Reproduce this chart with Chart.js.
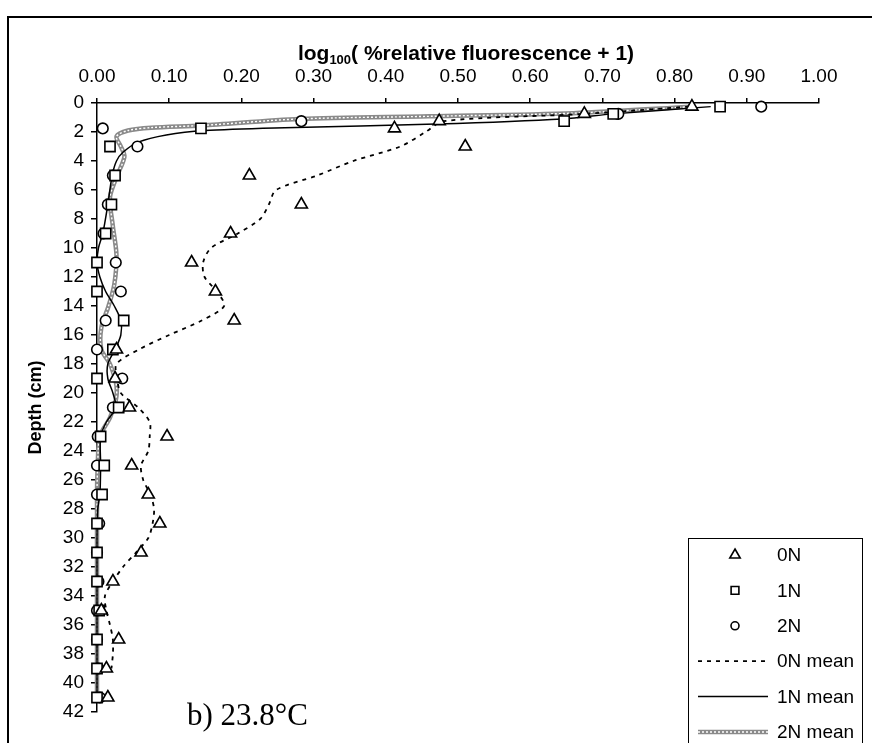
<!DOCTYPE html>
<html>
<head>
<meta charset="utf-8">
<script src="https://cdn.jsdelivr.net/npm/chart.js@4.4.0/dist/chart.umd.min.js"></script>
<style>
  html, body { margin: 0; padding: 0; background: #fff; }
  #wrap { position: relative; width: 872px; height: 743px; }
</style>
</head>
<body>
<div id="wrap"><canvas id="chart" width="872" height="743"></canvas></div>
<script>
// sample depths (cm) and log100(% rel. fluorescence + 1) per treatment
const depths = [0.25, 0.75, 1.25, 1.75, 3, 5, 7, 9, 11, 13, 15, 17, 19, 21, 23, 25, 27, 29, 31, 33, 35, 37, 39, 41];
const val0N = [0.824, 0.675, 0.474, 0.412, 0.51, 0.211, 0.283, 0.185, 0.131, 0.164, 0.19, 0.027, 0.025, 0.045, 0.097, 0.048, 0.071, 0.087, 0.061, 0.022, 0.006, 0.030, 0.013, 0.015];
const val1N = [0.863, 0.715, 0.647, 0.144, 0.018, 0.025, 0.02, 0.012, 0.0, 0.0, 0.037, 0.022, 0.0, 0.030, 0.005, 0.010, 0.007, 0.0, 0.0, 0.0, 0.003, 0.0, 0.0, 0.0];
const val2N = [0.92, 0.722, 0.283, 0.008, 0.056, 0.022, 0.015, 0.009, 0.026, 0.033, 0.012, 0.0, 0.035, 0.022, 0.001, 0.0, 0.0, 0.003, 0.0, 0.002, 0.0, 0.0, 0.002, 0.004];

// mean curves
const mean0Depth = [0.25, 0.75, 1.25, 2, 3, 4, 5, 6, 7, 8, 9, 10, 11, 12, 13, 14, 15, 16, 17, 18, 19, 20, 21, 22, 23, 24, 25, 26, 27, 28, 29, 30, 31, 32, 33, 34, 35, 36, 37, 38, 39];
const mean0 = [0.82, 0.675, 0.48, 0.455, 0.42, 0.355, 0.305, 0.248, 0.238, 0.226, 0.195, 0.158, 0.147, 0.149, 0.166, 0.176, 0.145, 0.10, 0.058, 0.027, 0.028, 0.033, 0.057, 0.073, 0.073, 0.071, 0.061, 0.064, 0.074, 0.079, 0.077, 0.071, 0.054, 0.036, 0.022, 0.011, 0.013, 0.018, 0.022, 0.022, 0.02];
const mean1Depth = [0.25, 0.75, 1.1, 1.45, 1.7, 1.9, 2.2, 2.7, 3.4, 4, 5, 7, 9, 10, 11, 12, 13, 14, 15, 16, 17, 18, 19, 20, 21, 22, 23, 25, 27, 28, 30, 35, 41];
const mean1 = [0.85, 0.715, 0.645, 0.47, 0.26, 0.149, 0.096, 0.057, 0.036, 0.027, 0.021, 0.015, 0.008, 0.002, 0.0, 0.004, 0.012, 0.024, 0.033, 0.033, 0.025, 0.015, 0.015, 0.022, 0.026, 0.013, 0.005, 0.005, 0.004, 0.001, 0.0, 0.0, 0.0];
const mean2Depth = [0.25, 0.7, 0.92, 1.1, 1.55, 1.7, 1.9, 2.3, 3, 3.7, 5, 6.5, 8.5, 10.5, 12.5, 14, 15.5, 17, 18, 19.5, 20.5, 21.7, 23, 25, 27, 41];
const mean2 = [0.825, 0.66, 0.46, 0.28, 0.145, 0.075, 0.043, 0.027, 0.033, 0.038, 0.028, 0.018, 0.022, 0.027, 0.024, 0.016, 0.006, 0.006, 0.018, 0.027, 0.026, 0.018, 0.004, 0.001, 0.0, 0.0];

const xTicksMin = 0, xTicksMax = 1, xStep = 0.1;
const yTicksMin = 0, yTicksMax = 42, yStep = 2;

const FONT = "'Liberation Sans', Arial, sans-serif";
const pts = (ys, xs) => ys.map((d, i) => ({ x: xs[i], y: d }));

const markerDs = (label, style, r, vals) => ({
  label, data: pts(depths, vals), pointStyle: style, pointRadius: r, pointHoverRadius: r,
  pointBackgroundColor: "#fff", pointBorderColor: "#000", pointBorderWidth: 1.6,
  showLine: false, clip: false,
});
const lineDs = (label, d, v, extra) => Object.assign({
  label, data: pts(d, v), showLine: true, pointRadius: 0, pointHoverRadius: 0,
  borderColor: "#000", borderWidth: 1.5, tension: 0.3, clip: false, fill: false,
}, extra);

const datasets = [
  markerDs("0N", "triangle", 7, val0N),
  markerDs("1N", "rect", 7.2, val1N),
  markerDs("2N", "circle", 5.3, val2N),
  lineDs("0N mean", mean0Depth, mean0, { borderDash: [4, 5], borderWidth: 1.8 }),
  lineDs("1N mean", mean1Depth, mean1, {}),
  lineDs("2N mean", mean2Depth, mean2, { borderColor: "#8a8a8a", borderWidth: 4.5, hatch: true }),
];

// white dotted overlay to mimic the hatched grey line
const hatchPlugin = {
  id: "hatch",
  afterDatasetDraw(chart, args) {
    const ds = chart.data.datasets[args.index];
    if (!ds.hatch) return;
    const el = args.meta.dataset;
    const ctx = chart.ctx;
    ctx.save();
    ctx.strokeStyle = "#fff";
    ctx.lineWidth = 1.4;
    ctx.setLineDash([2, 2]);
    ctx.beginPath();
    el.path(ctx);
    ctx.stroke();
    ctx.restore();
  },
};

const decorPlugin = {
  id: "decor",
  beforeDraw(chart) {
    const ctx = chart.ctx;
    ctx.save();
    ctx.fillStyle = "#fff";
    ctx.fillRect(0, 0, chart.width, chart.height);
    ctx.restore();
  },
  afterDraw(chart) {
    const ctx = chart.ctx;
    const area = chart.chartArea;
    ctx.save();
    // outer frame
    ctx.strokeStyle = "#000";
    ctx.lineWidth = 2;
    ctx.beginPath();
    ctx.moveTo(8, 745);
    ctx.lineTo(8, 17);
    ctx.lineTo(874, 17);
    ctx.stroke();

    // top title with subscript
    ctx.fillStyle = "#000";
    ctx.textBaseline = "alphabetic";
    const big = "bold 21px " + FONT, small = "bold 13px " + FONT;
    const parts = [["log", big, 0], ["100", small, 4], ["( %relative fluorescence + 1)", big, 0]];
    let w = 0;
    parts.forEach(([t, f]) => { ctx.font = f; w += ctx.measureText(t).width; });
    let x = 466 - w / 2;
    const base = 60;
    parts.forEach(([t, f, dy]) => { ctx.font = f; ctx.fillText(t, x, base + dy); x += ctx.measureText(t).width; });

    // y title
    ctx.save();
    ctx.translate(36, (area.top + area.bottom) / 2);
    ctx.rotate(-Math.PI / 2);
    ctx.font = "bold 18px " + FONT;
    ctx.textAlign = "center";
    ctx.textBaseline = "middle";
    ctx.fillText("Depth (cm)", 0, 0);
    ctx.restore();

    // panel label
    ctx.font = "31px 'Liberation Serif', 'Times New Roman', serif";
    ctx.textAlign = "left";
    ctx.fillText("b) 23.8°C", 187, 725);

    // legend box
    const lx = 688, ly = 538, lw = 174;
    ctx.fillStyle = "#fff";
    ctx.fillRect(lx, ly, lw, 220);
    ctx.strokeStyle = "#000";
    ctx.lineWidth = 1;
    ctx.strokeRect(lx + 0.5, ly + 0.5, lw, 220);
    const step = 35.4;
    chart.data.datasets.forEach((ds, i) => {
      const y = 555 + i * step;
      ctx.fillStyle = "#000";
      ctx.font = "19px " + FONT;
      ctx.textAlign = "left";
      ctx.textBaseline = "middle";
      ctx.fillText(ds.label, 777, y + 1);
      if (ds.showLine) {
        ctx.save();
        ctx.strokeStyle = ds.borderColor;
        ctx.lineWidth = ds.borderWidth;
        ctx.setLineDash(ds.borderDash || []);
        ctx.beginPath();
        ctx.moveTo(698, y);
        ctx.lineTo(768, y);
        ctx.stroke();
        if (ds.hatch) {
          ctx.strokeStyle = "#fff";
          ctx.lineWidth = 1.4;
          ctx.setLineDash([2, 2]);
          ctx.beginPath();
          ctx.moveTo(698, y);
          ctx.lineTo(768, y);
          ctx.stroke();
        }
        ctx.restore();
      } else {
        ctx.save();
        ctx.fillStyle = "#fff";
        ctx.strokeStyle = "#000";
        ctx.lineWidth = 1.6;
        Chart.helpers.drawPoint(ctx, {
          pointStyle: ds.pointStyle, rotation: 0, borderWidth: 1.6,
          radius: ds.pointStyle === "circle" ? 4 : ds.pointStyle === "rect" ? 5.5 : 6,
        }, 735, y);
        ctx.restore();
      }
    });
    ctx.restore();
  },
};

new Chart(document.getElementById("chart"), {
  type: "scatter",
  data: { datasets },
  options: {
    responsive: false,
    animation: false,
    devicePixelRatio: 1,
    layout: { padding: { left: 0, top: 0, right: 53, bottom: 31 } },
    plugins: { legend: { display: false }, tooltip: { enabled: false } },
    scales: {
      x: {
        type: "linear", position: "top", min: xTicksMin, max: xTicksMax,
        ticks: {
          stepSize: xStep, autoSkip: false, maxRotation: 0, padding: 10, color: "#000",
          font: { family: FONT, size: 19 },
          callback: (v) => v.toFixed(2),
        },
        grid: { drawOnChartArea: false, drawTicks: true, tickLength: 5, color: "#000", lineWidth: 1.5 },
        border: { display: true, color: "#000", width: 1.5 },
        afterFit: (s) => { s.height = 103; },
      },
      y: {
        type: "linear", reverse: true, min: yTicksMin, max: yTicksMax,
        ticks: {
          stepSize: yStep, autoSkip: false, padding: 7, color: "#000",
          font: { family: FONT, size: 19 },
        },
        grid: { drawOnChartArea: false, drawTicks: true, tickLength: 6, color: "#000", lineWidth: 1.5 },
        border: { display: true, color: "#000", width: 1.5 },
        afterFit: (s) => { s.width = 97; },
      },
    },
  },
  plugins: [hatchPlugin, decorPlugin],
});
</script>
</body>
</html>
